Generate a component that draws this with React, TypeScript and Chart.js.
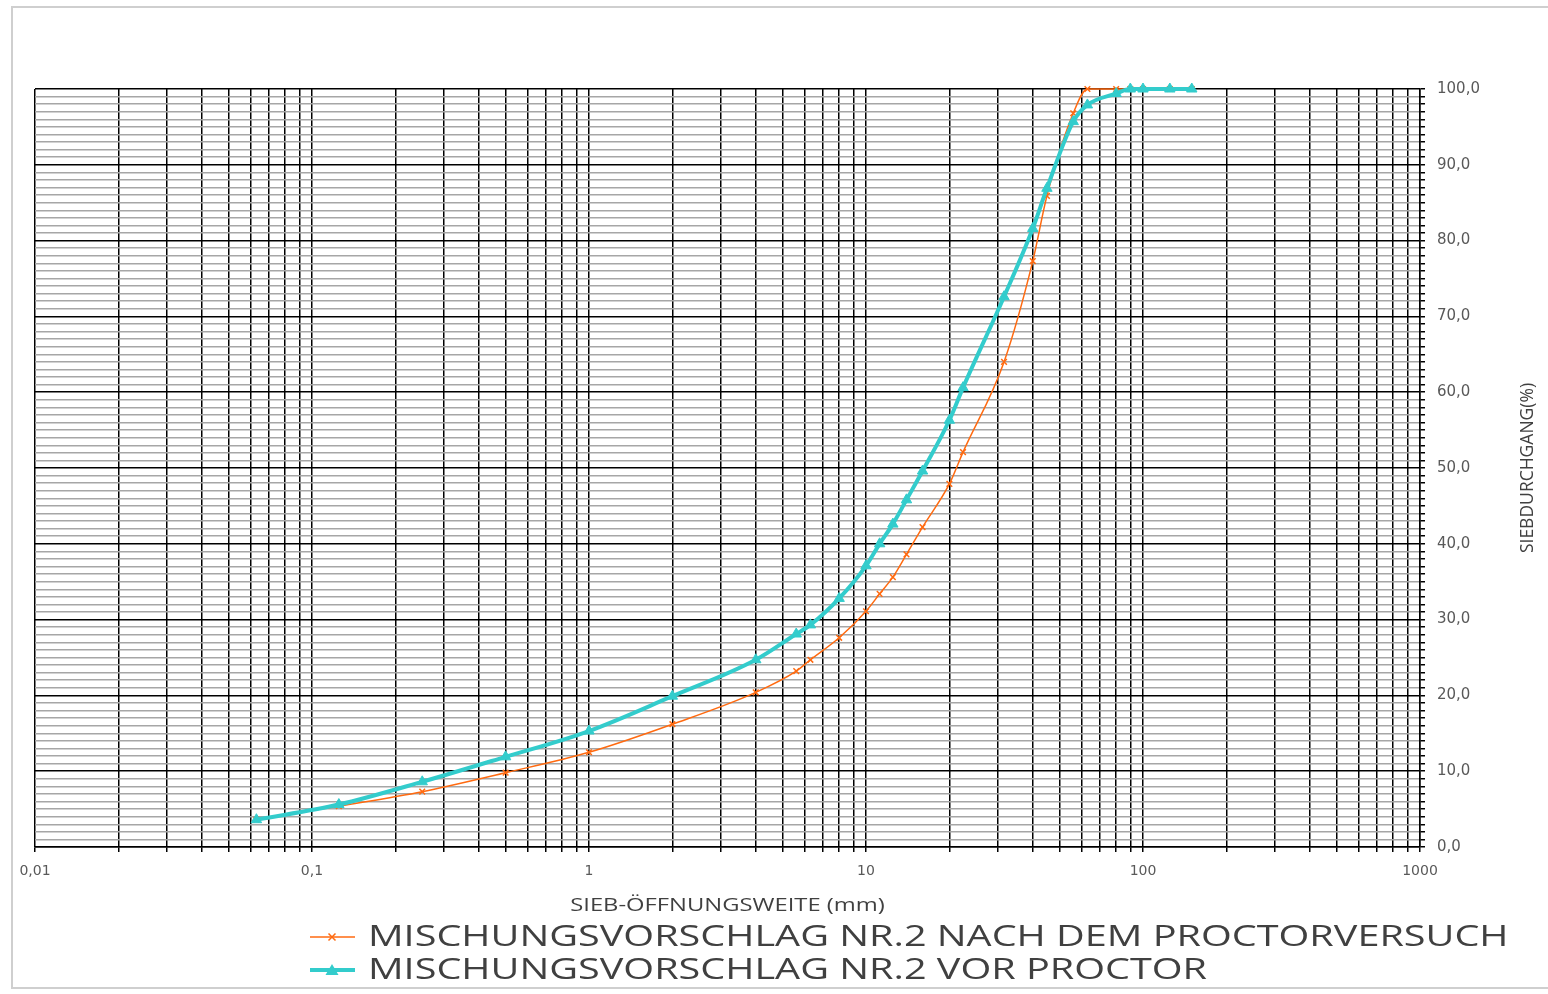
import React, { useEffect, useRef } from 'react';
import { Chart, registerables } from 'chart.js';

Chart.register(...registerables);

// Sieve openings (mm)
const sieveSizes = [0.063, 0.125, 0.25, 0.5, 1, 2, 4, 5.6, 6.3, 8, 10, 11.2, 12.5, 14, 16, 20, 22.4, 31.5, 40, 45, 56, 63, 80, 90, 100, 125, 150];
// Passing (%) after Proctor test
const afterProctor = [3.6, 5.4, 7.3, 9.8, 12.5, 16.2, 20.4, 23.2, 24.7, 27.6, 31.1, 33.4, 35.6, 38.6, 42.2, 47.9, 52.1, 64.0, 77.3, 85.9, 96.8, 100, 100, 100, 100, 100, 100];
// Passing (%) before Proctor test
const beforeProctor = [3.6, 5.6, 8.6, 11.9, 15.3, 19.9, 24.7, 28.1, 29.3, 32.8, 37.1, 40.0, 42.6, 45.8, 49.6, 56.3, 60.6, 72.6, 81.6, 86.9, 95.7, 97.9, 99.4, 100, 100, 100, 100];

const xDecades = [0.01, 0.1, 1, 10, 100, 1000];
const xDecadeLabels = ['0,01', '0,1', '1', '10', '100', '1000'];
const seriesNames = [
  'MISCHUNGSVORSCHLAG NR.2 NACH DEM PROCTORVERSUCH',
  'MISCHUNGSVORSCHLAG NR.2 VOR PROCTOR',
];
const xTitle = 'SIEB-ÖFFNUNGSWEITE (mm)';
const yTitle = 'SIEBDURCHGANG(%)';

const ORANGE = '#FF6A10';
const TEAL = '#33CCCC';
const TEXT_STRETCH = 1.32;

function buildXTicks() {
  const t: { value: number }[] = [];
  for (let d = 0; d < xDecades.length - 1; d++) {
    for (let m = 1; m <= 9; m++) {
      t.push({ value: Number((m * xDecades[d]).toPrecision(6)) });
    }
  }
  t.push({ value: xDecades[xDecades.length - 1] });
  return t;
}

function buildYTicks() {
  const t: { value: number }[] = [];
  for (let v = 0; v <= 100; v++) t.push({ value: v });
  return t;
}

function stretchedText(ctx: CanvasRenderingContext2D, text: string, x: number, y: number, align: CanvasTextAlign) {
  ctx.save();
  ctx.translate(x, y);
  ctx.scale(TEXT_STRETCH, 1);
  ctx.textAlign = align;
  ctx.textBaseline = 'middle';
  ctx.fillText(text, 0, 0);
  ctx.restore();
}

const overlayPlugin = {
  id: 'overlay',
  afterDraw(chart: any) {
    const ctx = chart.ctx as CanvasRenderingContext2D;
    const area = chart.chartArea;
    ctx.save();
    // x title
    ctx.fillStyle = '#404040';
    ctx.font = '18px "Open Sans"';
    stretchedText(ctx, xTitle, (area.left + area.right) / 2, 906, 'center');
    // y title (rotated, reading bottom-to-top)
    ctx.save();
    ctx.translate(1528, (area.top + area.bottom) / 2);
    ctx.rotate(-Math.PI / 2);
    ctx.font = '17.5px "Open Sans"';
    ctx.textAlign = 'center';
    ctx.textBaseline = 'middle';
    ctx.fillText(yTitle, 0, 0);
    ctx.restore();

    // legend
    const items = [
      { name: seriesNames[0], color: ORANGE, lw: 1.5, y: 937, marker: 'x' },
      { name: seriesNames[1], color: TEAL, lw: 4, y: 970, marker: 'tri' },
    ];
    items.forEach((it) => {
      ctx.strokeStyle = it.color;
      ctx.lineWidth = it.lw;
      ctx.beginPath();
      ctx.moveTo(310, it.y);
      ctx.lineTo(355, it.y);
      ctx.stroke();
      const cx = 332;
      if (it.marker === 'x') {
        ctx.lineWidth = 1.5;
        const r = 3.5;
        ctx.beginPath();
        ctx.moveTo(cx - r, it.y - r);
        ctx.lineTo(cx + r, it.y + r);
        ctx.moveTo(cx + r, it.y - r);
        ctx.lineTo(cx - r, it.y + r);
        ctx.stroke();
      } else {
        ctx.fillStyle = it.color;
        ctx.beginPath();
        ctx.moveTo(cx, it.y - 6);
        ctx.lineTo(cx + 6.5, it.y + 5);
        ctx.lineTo(cx - 6.5, it.y + 5);
        ctx.closePath();
        ctx.fill();
      }
      ctx.fillStyle = '#404040';
      ctx.font = '30px "Open Sans"';
      stretchedText(ctx, it.name, 368, it.y, 'left');
    });
    ctx.restore();
  },
};

export default function App() {
  const canvasRef = useRef<HTMLCanvasElement | null>(null);

  useEffect(() => {
    if (!canvasRef.current) return;
    const chart = new Chart(canvasRef.current, {
      type: 'line',
      data: {
        datasets: [
          {
            label: seriesNames[0],
            data: sieveSizes.map((x, i) => ({ x, y: afterProctor[i] })),
            borderColor: ORANGE,
            backgroundColor: ORANGE,
            borderWidth: 1.5,
            pointStyle: 'crossRot',
            pointRadius: 4,
            pointBorderWidth: 1.5,
            pointBorderColor: ORANGE,
            cubicInterpolationMode: 'monotone',
            clip: false as any,
            order: 1,
          },
          {
            label: seriesNames[1],
            data: sieveSizes.map((x, i) => ({ x, y: beforeProctor[i] })),
            borderColor: TEAL,
            backgroundColor: TEAL,
            borderWidth: 4,
            pointStyle: 'triangle',
            pointRadius: 6,
            pointBorderWidth: 1,
            pointBorderColor: TEAL,
            pointBackgroundColor: TEAL,
            cubicInterpolationMode: 'monotone',
            clip: false as any,
            order: 0,
          },
        ],
      },
      options: {
        responsive: false,
        animation: false,
        devicePixelRatio: 1,
        layout: { padding: { left: 35, top: 89, right: 0, bottom: 0 } },
        plugins: {
          legend: { display: false },
          tooltip: { enabled: false },
          title: { display: false },
        },
        scales: {
          x: {
            type: 'logarithmic',
            min: 0.01,
            max: 1000,
            position: 'bottom',
            afterBuildTicks: (scale: any) => {
              scale.ticks = buildXTicks();
            },
            afterFit: (scale: any) => {
              scale.height = 147;
            },
            border: { display: true, color: '#000', width: 1.5 },
            grid: {
              color: '#000',
              lineWidth: 1.5,
              drawTicks: true,
              tickLength: 5,
              tickColor: '#000',
            },
            ticks: {
              autoSkip: false,
              maxRotation: 0,
              padding: 11,
              color: '#595959',
              font: { family: 'DejaVu Sans', size: 14 },
              callback: (v: any) => {
                const val = Number(v);
                const idx = xDecades.findIndex((d) => Math.abs(d - val) / d < 1e-6);
                return idx >= 0 ? xDecadeLabels[idx] : '';
              },
            },
          },
          y: {
            type: 'linear',
            position: 'right',
            min: 0,
            max: 100,
            afterBuildTicks: (scale: any) => {
              scale.ticks = buildYTicks();
            },
            afterFit: (scale: any) => {
              scale.width = 128;
            },
            border: { display: true, color: '#000', width: 1.5 },
            grid: {
              color: (c: any) => (c.tick && c.tick.value % 10 === 0 ? '#000' : '#a6a6a6'),
              lineWidth: 1.5,
              drawTicks: true,
              tickLength: 5,
              tickColor: '#000',
            },
            ticks: {
              autoSkip: false,
              padding: 12,
              color: '#595959',
              font: { family: 'DejaVu Sans', size: 15 },
              callback: (v: any) => {
                const val = Number(v);
                return val % 10 === 0 ? val.toFixed(1).replace('.', ',') : '';
              },
            },
          },
        },
      },
      plugins: [overlayPlugin],
    } as any);
    return () => chart.destroy();
  }, []);

  return (
    <div style={{ position: 'fixed', left: 0, top: 0, width: 1548, height: 994, background: '#fff', overflow: 'hidden' }}>
      <div
        style={{
          position: 'absolute',
          left: 11,
          top: 6,
          width: 1560,
          height: 983,
          border: '2px solid #cfcfcf',
          boxSizing: 'border-box',
        }}
      />
      <canvas
        ref={canvasRef}
        width={1548}
        height={994}
        style={{ position: 'absolute', left: 0, top: 0, width: 1548, height: 994 }}
      />
    </div>
  );
}
